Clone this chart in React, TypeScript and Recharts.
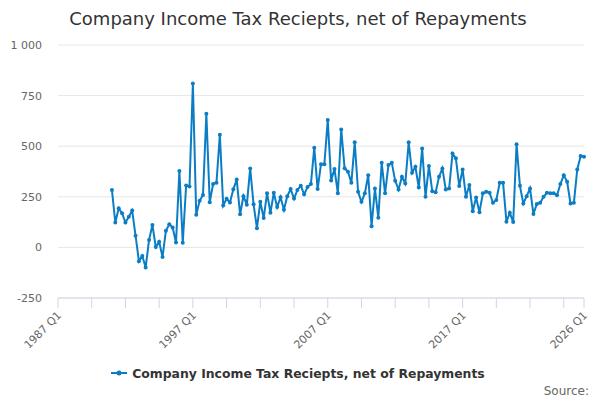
import React from 'react';
import { LineChart, Line, XAxis, YAxis, CartesianGrid, Legend } from 'recharts';

const SERIES_NAME = 'Company Income Tax Reciepts, net of Repayments';
const LINE_COLOR = '#0b7dc4';

// quarters run 1987 Q1 .. 2026 Q1, the series begins in 1991 Q1
const firstYear = 1987;
const lastLabel = '2026 Q1';
const seriesStart = '1991 Q1';

const receipts: number[] = [
  283, 123, 193, 169, 123, 152, 182, 58, -68, -42, -99, 36, 111, 2, 28, -47,
  82, 114, 98, 24, 378, 23, 306, 301, 810, 161, 230, 259, 660, 223, 313, 320,
  556, 207, 240, 222, 287, 335, 164, 253, 211, 390, 213, 95, 225, 145, 268, 171,
  270, 199, 248, 186, 253, 288, 241, 284, 305, 262, 298, 313, 492, 288, 411, 411,
  630, 331, 387, 268, 583, 391, 374, 319, 519, 275, 225, 267, 357, 105, 291, 146,
  418, 267, 407, 418, 329, 286, 349, 316, 519, 369, 398, 296, 489, 250, 402, 278,
  272, 349, 390, 286, 291, 464, 440, 303, 385, 250, 308, 179, 247, 174, 267, 275,
  270, 220, 234, 319, 319, 127, 171, 125, 510, 304, 217, 253, 291, 165, 214, 220,
  250, 270, 267, 267, 258, 313, 357, 324, 217, 220, 385, 451, 448,
];

const yTicks = [-250, 0, 250, 500, 750, 1000];
const labelledQuarters = ['1987 Q1', '1997 Q1', '2007 Q1', '2017 Q1', '2026 Q1'];

const quarters: string[] = [];
for (let y = firstYear; ; y++) {
  let done = false;
  for (let q = 1; q <= 4; q++) {
    const label = `${y} Q${q}`;
    quarters.push(label);
    if (label === lastLabel) {
      done = true;
      break;
    }
  }
  if (done) break;
}

const startIdx = quarters.indexOf(seriesStart);
const data = quarters.map((quarter, i) => ({
  quarter,
  value: i >= startIdx ? receipts[i - startIdx] ?? null : null,
}));

const xTicks = quarters.filter((_, i) => i % 10 === 0 || i === quarters.length - 1);

const fmtY = (v: number) => (v === 1000 ? '1 000' : String(v));

const QuarterTick = (props: any) => {
  const { x, y, payload } = props;
  if (!labelledQuarters.includes(payload.value)) return null;
  const tx = x + 4;
  const ty = y + 6;
  return (
    <text
      x={tx}
      y={ty}
      transform={`rotate(-45, ${tx}, ${ty})`}
      textAnchor="end"
      fontSize={11}
      fill="#666666"
      fontFamily="DejaVu Sans, sans-serif"
    >
      {payload.value}
    </text>
  );
};

const LegendBox = () => (
  <div
    style={{
      display: 'flex',
      justifyContent: 'center',
      alignItems: 'center',
      fontFamily: 'DejaVu Sans, sans-serif',
      fontSize: 12.4,
      fontWeight: 'bold',
      color: '#333333',
      height: 20,
      paddingLeft: 12,
    }}
  >
    <svg width={16} height={12} style={{ marginRight: 5 }}>
      <line x1={0} y1={6} x2={16} y2={6} stroke={LINE_COLOR} strokeWidth={2} />
      <circle cx={8} cy={6} r={2.5} fill={LINE_COLOR} />
    </svg>
    <span>{SERIES_NAME}</span>
  </div>
);

export default function App() {
  return (
    <div
      style={{
        position: 'absolute',
        left: 0,
        top: 0,
        width: 600,
        height: 400,
        background: '#ffffff',
        fontFamily: 'DejaVu Sans, sans-serif',
      }}
    >
      <div
        style={{
          position: 'absolute',
          top: 8,
          left: 0,
          width: 596,
          textAlign: 'center',
          fontSize: 18,
          color: '#333333',
        }}
      >
        Company Income Tax Reciepts, net of Repayments
      </div>
      <LineChart width={600} height={400} data={data} margin={{ top: 45, right: 16, bottom: 17, left: 0 }}>
        <CartesianGrid vertical={false} stroke="#e6e6e6" />
        <XAxis
          dataKey="quarter"
          ticks={xTicks}
          interval={0}
          tick={<QuarterTick />}
          tickSize={10}
          height={65}
          axisLine={{ stroke: '#ccd6eb' }}
          tickLine={{ stroke: '#ccd6eb' }}
        />
        <YAxis
          domain={[-250, 1000]}
          ticks={yTicks}
          tickFormatter={fmtY}
          axisLine={false}
          tickLine={false}
          tickSize={0}
          tickMargin={16}
          width={58}
          tick={{ fontSize: 11, fill: '#666666', fontFamily: 'DejaVu Sans, sans-serif' }}
        />
        <Legend verticalAlign="bottom" content={<LegendBox />} />
        <Line
          type="linear"
          dataKey="value"
          name={SERIES_NAME}
          stroke={LINE_COLOR}
          strokeWidth={2}
          dot={{ r: 2, fill: LINE_COLOR, stroke: LINE_COLOR, strokeWidth: 0 }}
          activeDot={false}
          isAnimationActive={false}
        />
      </LineChart>
      <div
        style={{
          position: 'absolute',
          right: 11,
          top: 384,
          fontSize: 12,
          color: '#666666',
        }}
      >
        Source:
      </div>
    </div>
  );
}
